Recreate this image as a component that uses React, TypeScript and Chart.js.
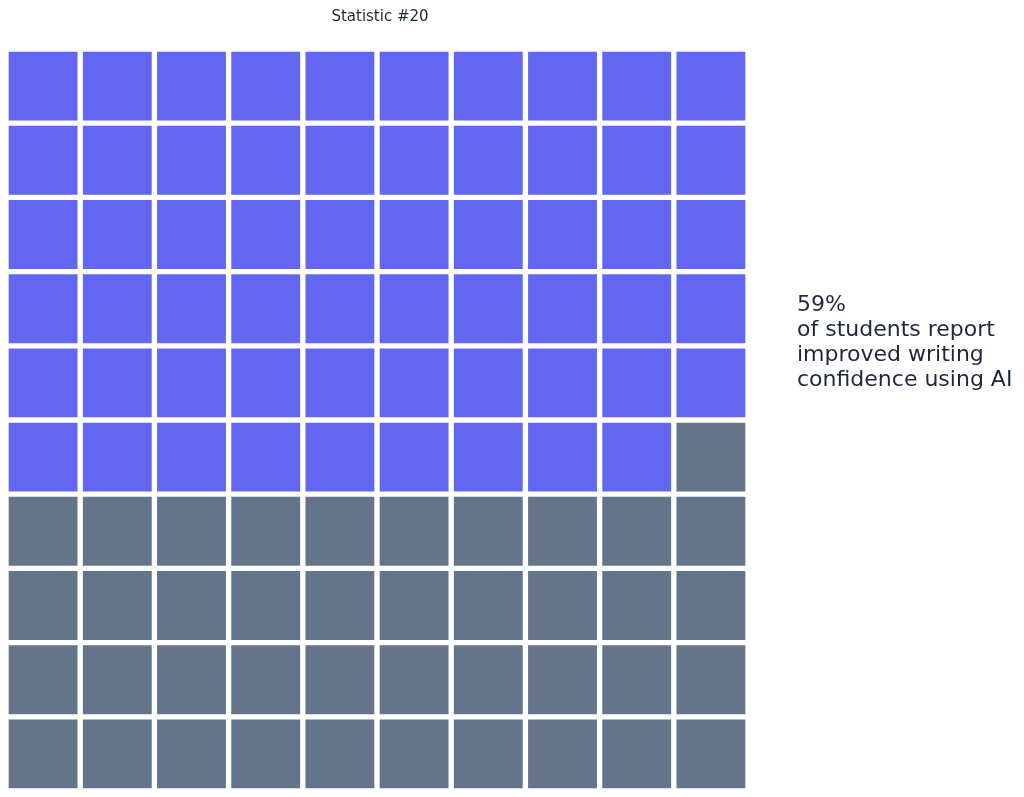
import { useEffect, useRef } from 'react';
import { Chart, registerables } from 'chart.js';

Chart.register(...registerables);

// waffle data
const title = 'Statistic #20';
const percent = 59;
const columns = ['1', '2', '3', '4', '5', '6', '7', '8', '9', '10'];
const rows = [0, 1, 2, 3, 4, 5, 6, 7, 8, 9];
const captionLines = [`${percent}%`, 'of students report', 'improved writing', 'confidence using AI'];

const filledColor = '#6366F1';
const emptyColor = '#64748B';
const textColor = '#1e293b';

const textPlugin = {
  id: 'waffleText',
  afterDraw(chart: Chart) {
    const { ctx, chartArea } = chart;
    ctx.save();
    ctx.fillStyle = textColor;
    ctx.textBaseline = 'alphabetic';

    ctx.font = '15px "DejaVu Sans"';
    ctx.textAlign = 'center';
    ctx.fillText(title, (chartArea.left + chartArea.right) / 2 + 3, 21);

    ctx.font = '22px "DejaVu Sans"';
    ctx.textAlign = 'left';
    captionLines.forEach((line, i) => {
      ctx.fillText(line, chartArea.right + 49, 311 + i * 25);
    });
    ctx.restore();
  },
};

const App = () => {
  const chartRef = useRef<HTMLCanvasElement>(null);
  const chartInstance = useRef<Chart | null>(null);

  useEffect(() => {
    if (!chartRef.current) return;
    if (chartInstance.current) chartInstance.current.destroy();

    const ctx = chartRef.current.getContext('2d');
    if (!ctx) return;

    const datasets = rows.map((r) => ({
      label: `row ${r + 1}`,
      data: columns.map(() => [9 - r, 10 - r] as [number, number]),
      backgroundColor: columns.map((_, c) => (r * columns.length + c < percent ? filledColor : emptyColor)),
      borderColor: '#ffffff',
      borderWidth: 3,
      borderSkipped: false as const,
      barPercentage: 1,
      categoryPercentage: 1,
    }));

    chartInstance.current = new Chart(ctx, {
      type: 'bar',
      data: { labels: columns, datasets },
      plugins: [textPlugin],
      options: {
        responsive: false,
        animation: false,
        layout: { padding: { left: 6, top: 49, right: 276, bottom: 6 } },
        plugins: {
          legend: { display: false },
          tooltip: { enabled: false },
        },
        scales: {
          x: { stacked: true, display: false },
          y: { stacked: false, min: 0, max: 10, display: false },
        },
      },
    });

    return () => {
      if (chartInstance.current) {
        chartInstance.current.destroy();
        chartInstance.current = null;
      }
    };
  }, []);

  return (
    <div style={{ position: 'absolute', left: 0, top: 0, width: 1024, height: 797, background: '#fff' }}>
      <canvas ref={chartRef} width={1024} height={797} style={{ display: 'block' }} />
    </div>
  );
};

export default App;
